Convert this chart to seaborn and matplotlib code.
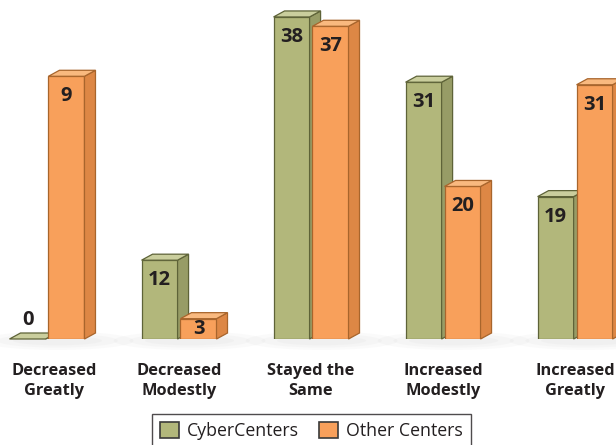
import matplotlib
matplotlib.use("Agg")
import matplotlib.pyplot as plt
import matplotlib.transforms as mtransforms
import seaborn as sns
import pandas as pd
from matplotlib.patches import Polygon, Patch, Ellipse

# ---- data -------------------------------------------------------------
categories = ["Decreased\nGreatly", "Decreased\nModestly", "Stayed the\nSame",
              "Increased\nModestly", "Increased\nGreatly"]
series = ["CyberCenters", "Other Centers"]
# values printed on the bars
cyber_values = [0, 12, 38, 31, 19]
other_values = [9, 3, 37, 20, 31]
# bar heights as drawn in the reference (same scale as the printed values)
cyber_heights = [0, 9.3, 38, 30.3, 16.8]
other_heights = [31, 2.4, 36.9, 18.0, 30.0]

df = pd.DataFrame({
    "category": categories * 2,
    "series": [series[0]] * 5 + [series[1]] * 5,
    "height": cyber_heights + other_heights,
    "label": cyber_values + other_values,
})

front = {"CyberCenters": "#B2B77B", "Other Centers": "#F8A05B"}
side = {"CyberCenters": "#979C66", "Other Centers": "#DD8745"}
top = {"CyberCenters": "#CACE9D", "Other Centers": "#F9B97F"}
edge = {"CyberCenters": "#5E6338", "Other Centers": "#A8652C"}

sns.set_theme(style="white")
plt.rcParams["font.family"] = ["Open Sans", "DejaVu Sans"]

W, H = 616, 445
fig = plt.figure(figsize=(W / 100, H / 100), dpi=100)
fig.patch.set_facecolor("white")
ax = fig.add_axes([0, 106 / H, 1, 339 / H])

sns.barplot(data=df, x="category", y="height", hue="series", palette=front,
            saturation=1, width=0.59, gap=0.075, dodge=True, ax=ax, legend=False)

xmin, xmax = -0.356, 4.31
ymin, ymax = 0, 40.0
ax.set_xlim(xmin, xmax)
ax.set_ylim(ymin, ymax)
px_x = (xmax - xmin) / W
px_y = (ymax - ymin) / 339
dx, dy = 11 * px_x, 6 * px_y

# soft floor shadows
for i in range(len(categories)):
    for k, a in [(1.0, 0.035), (0.75, 0.035), (0.5, 0.035)]:
        ax.add_patch(Ellipse((i + 0.08, -0.2), 0.95 * k + 0.2, 2.2 * k,
                             facecolor="#808080", alpha=a, edgecolor="none",
                             zorder=0.5, clip_on=False))

for si, (s, cont) in enumerate(zip(series, ax.containers)):
    vals = df[df.series == s]["label"].tolist()
    for bi, rect in enumerate(cont):
        x0, w, h = rect.get_x(), rect.get_width(), rect.get_height()
        z = 2 + bi * 0.01 + si * 0.005
        rect.set_edgecolor(edge[s])
        rect.set_linewidth(0.9)
        rect.set_zorder(z)
        side_poly = Polygon([(x0 + w, 0), (x0 + w + dx, dy), (x0 + w + dx, h + dy), (x0 + w, h)],
                            closed=True, facecolor=side[s], edgecolor=edge[s], lw=0.9,
                            zorder=z + 0.001, clip_on=False)
        top_poly = Polygon([(x0, h), (x0 + w, h), (x0 + w + dx, h + dy), (x0 + dx, h + dy)],
                           closed=True, facecolor=top[s], edgecolor=edge[s], lw=0.9,
                           zorder=z + 0.002, clip_on=False)
        ax.add_patch(side_poly)
        ax.add_patch(top_poly)
        hp = h / px_y
        if hp > 40:
            ty = h - 20 * px_y
        elif hp > 5:
            ty = h / 2
        else:
            ty = h + 19 * px_y
        ax.text(x0 + w / 2, ty, f"{vals[bi]}", ha="center", va="center",
                fontsize=14.5, fontweight="bold", color="#231F20", zorder=10)

for sp in ax.spines.values():
    sp.set_visible(False)
ax.set_yticks([])
ax.set_xlabel("")
ax.set_ylabel("")
ax.tick_params(axis="x", length=0, pad=17)
for i, t in enumerate(ax.get_xticklabels()):
    t.set_fontsize(11.8)
    t.set_fontweight("bold")
    t.set_color("#231F20")
    t.set_linespacing(1.35)
    if i == 0:
        t.set_transform(t.get_transform() +
                        mtransforms.ScaledTranslation(0.07, 0, fig.dpi_scale_trans))

handles = [Patch(facecolor=front[s], edgecolor="#3A3A3A", lw=1.2, label=s) for s in series]
leg = fig.legend(handles=handles, loc="upper left", bbox_to_anchor=(152 / W, 1 - 414 / H),
                 ncol=2, frameon=True, fancybox=False, fontsize=12.8,
                 handlelength=1.05, handleheight=1.05, handletextpad=0.45,
                 columnspacing=1.15, borderpad=0.45, borderaxespad=0)
leg.get_frame().set_edgecolor("#231F20")
leg.get_frame().set_linewidth(1.0)
for t in leg.get_texts():
    t.set_color("#231F20")

fig.savefig("out.png", dpi=100)
